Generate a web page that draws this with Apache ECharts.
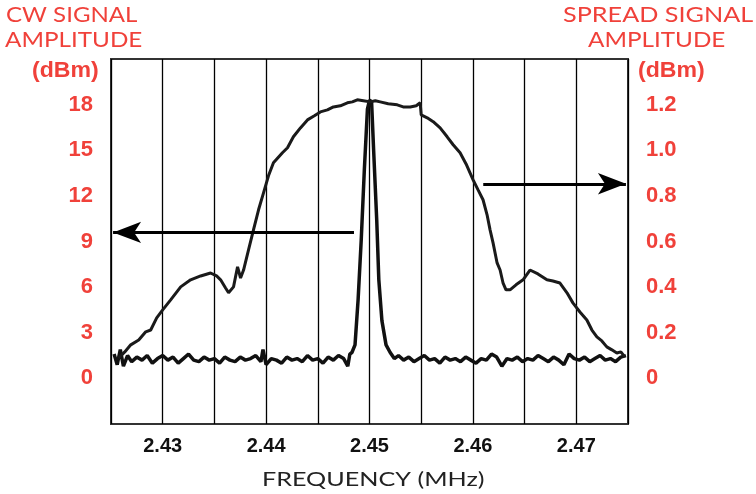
<!DOCTYPE html>
<html>
<head>
<meta charset="utf-8">
<script src="https://cdn.jsdelivr.net/npm/echarts@6/dist/echarts.min.js"></script>
<style>
html, body { margin: 0; padding: 0; background: #fff; }
#chart { width: 756px; height: 494px; }
</style>
</head>
<body>
<div id="chart"></div>
<script>
// frequency ticks (MHz) shown under the grid
var freqTicks = [2.43, 2.44, 2.45, 2.46, 2.47];
var cwTicks = [0, 3, 6, 9, 12, 15, 18];
var spreadTicks = ['0', '0.2', '0.4', '0.6', '0.8', '1.0', '1.2'];

// CW signal, left axis (dBm)
var cwFreq = [2.4253, 2.4256, 2.4259, 2.4262, 2.4266, 2.427, 2.4275, 2.428, 2.4285, 2.429, 2.4295, 2.43,
  2.4305, 2.431, 2.4315, 2.432, 2.4325, 2.433, 2.4335, 2.434, 2.4345, 2.435, 2.4355, 2.436, 2.4365,
  2.437, 2.4375, 2.438, 2.4385, 2.439, 2.4395, 2.4397, 2.44, 2.4405, 2.441, 2.4415, 2.442, 2.4425,
  2.443, 2.4435, 2.444, 2.4445, 2.445, 2.4455, 2.446, 2.4465, 2.447, 2.4475, 2.4479, 2.4481, 2.4483,
  2.4486, 2.4489, 2.4492, 2.4495, 2.4498, 2.45, 2.4502, 2.4504, 2.4507, 2.4509, 2.4512, 2.4516, 2.452,
  2.4524, 2.4528, 2.4533, 2.4538, 2.4543, 2.4548, 2.4553, 2.4558, 2.4563, 2.4568, 2.4573, 2.4578,
  2.4583, 2.4588, 2.4593, 2.4598, 2.4603, 2.4608, 2.4613, 2.4618, 2.4623, 2.4628, 2.4633, 2.4638,
  2.4643, 2.4648, 2.4653, 2.4658, 2.4663, 2.4668, 2.4673, 2.4678, 2.4683, 2.4688, 2.4693, 2.4698,
  2.4703, 2.4708, 2.4713, 2.4718, 2.4723, 2.4728, 2.4733, 2.4738, 2.4743, 2.4748];
var cwLevel = [1.6, 0.9, 1.9, 0.8, 1.5, 1.1, 1.4, 1.2, 1.5, 1.0, 1.3, 1.5,
  1.2, 1.4, 1.0, 1.3, 1.6, 1.2, 1.1, 1.4, 1.2, 1.3, 1.0, 1.4, 1.2,
  1.1, 1.4, 1.2, 1.3, 1.5, 1.1, 1.9, 0.9, 1.3, 1.2, 1.0, 1.4, 1.2,
  1.3, 1.1, 1.5, 1.2, 1.3, 1.0, 1.4, 1.2, 1.5, 1.3, 0.8, 1.6, 1.7,
  2.2, 5.2, 9.1, 13.7, 17.7, 18.3, 18.2, 15.0, 10.4, 6.5, 3.8, 2.2, 1.7,
  1.3, 1.5, 1.2, 1.4, 1.1, 1.3, 1.5, 1.2, 1.3, 1.0, 1.4, 1.2,
  1.3, 1.1, 1.4, 1.2, 1.0, 1.3, 1.2, 1.6, 1.4, 0.8, 1.3, 1.2,
  1.4, 1.1, 1.3, 1.2, 1.5, 1.3, 1.1, 1.4, 1.2, 0.9, 1.6, 1.3,
  1.2, 1.4, 1.1, 1.3, 1.5, 1.2, 1.3, 1.1, 1.4, 1.5];

// spread signal, right axis (dBm)
var spreadFreq = [2.42575, 2.42633, 2.42691, 2.42768, 2.42836, 2.42884, 2.42942, 2.43, 2.43077, 2.43174,
  2.4327, 2.43367, 2.43463, 2.43521, 2.4356, 2.43608, 2.43637, 2.43685, 2.43724, 2.43753, 2.43782,
  2.4383, 2.43878, 2.43927, 2.43975, 2.44023, 2.44071, 2.44158, 2.44207, 2.44264, 2.44332, 2.444,
  2.44467, 2.44525, 2.44593, 2.44651, 2.44718, 2.44786, 2.44834, 2.44882, 2.4494, 2.45008, 2.45056,
  2.45104, 2.45181, 2.45268, 2.45326, 2.45394, 2.45452, 2.4549, 2.455, 2.45558, 2.45616, 2.45683,
  2.45751, 2.45809, 2.45876, 2.45934, 2.46002, 2.4605, 2.46098, 2.46137, 2.46166, 2.46195, 2.46234,
  2.46263, 2.46291, 2.4632, 2.46359, 2.46417, 2.46485, 2.46552, 2.46629, 2.46716, 2.46774, 2.46842,
  2.4691, 2.46967, 2.47035, 2.47102, 2.47151, 2.47199, 2.47247, 2.47295, 2.47344, 2.47392, 2.47431, 2.47469];
var spreadLevel = [0.089, 0.116, 0.147, 0.168, 0.204, 0.212, 0.265, 0.3, 0.344, 0.401,
  0.432, 0.449, 0.462, 0.449, 0.432, 0.396, 0.375, 0.401, 0.489, 0.44, 0.475,
  0.563, 0.651, 0.739, 0.813, 0.888, 0.945, 0.989, 1.011, 1.059, 1.098, 1.133,
  1.151, 1.168, 1.177, 1.19, 1.195, 1.208, 1.212, 1.221, 1.217, 1.212, 1.217,
  1.212, 1.204, 1.199, 1.19, 1.19, 1.195, 1.208, 1.155, 1.142, 1.125, 1.098,
  1.059, 1.024, 0.989, 0.94, 0.87, 0.826, 0.783, 0.717, 0.651, 0.594, 0.506,
  0.475, 0.419, 0.388, 0.388, 0.41, 0.432, 0.475, 0.458, 0.432, 0.427, 0.418,
  0.375, 0.331, 0.291, 0.256, 0.212, 0.182, 0.164, 0.138, 0.125, 0.111, 0.116, 0.094];

// arrow annotations
var cwArrow = { from: [2.4485, 9.6], to: [2.4252, 9.6] };
var spreadArrow = { from: [2.4610, 0.853], to: [2.4748, 0.853] };

function pairs(xs, ys) {
  return xs.map(function (x, i) { return [x, ys[i]]; });
}

var red = '#f0413a';
var headFont = '21px Lato';
var chart = echarts.init(document.getElementById('chart'), null, { renderer: 'canvas' });

function label(text, x, y, sx, font, color) {
  return {
    type: 'text', x: x, y: y, scaleX: sx,
    style: { text: text, fill: color || red, font: font || headFont, textAlign: 'left', textVerticalAlign: 'top' }
  };
}

var option = {
  animation: false,
  backgroundColor: '#fff',
  grid: { left: 111, right: 128, top: 59, bottom: 70, show: true, borderColor: '#333', borderWidth: 2, backgroundColor: 'transparent' },
  xAxis: {
    type: 'value',
    min: 2.425, max: 2.475, interval: 0.005,
    axisLine: { show: false },
    axisTick: { show: false },
    splitLine: { show: true, lineStyle: { color: '#000', width: 1.3 } },
    axisLabel: {
      margin: 12,
      color: '#111',
      fontFamily: 'Liberation Sans',
      fontWeight: 'bold',
      fontSize: 20,
      formatter: function (v) {
        for (var i = 0; i < freqTicks.length; i++) {
          if (Math.abs(v - freqTicks[i]) < 1e-6) return freqTicks[i].toFixed(2);
        }
        return '';
      }
    }
  },
  yAxis: [
    {
      type: 'value', position: 'left',
      min: -3, max: 21, interval: 3,
      axisLine: { show: false }, axisTick: { show: false }, splitLine: { show: false },
      axisLabel: {
        margin: 18, color: red, fontFamily: 'Liberation Sans', fontWeight: 'bold', fontSize: 22,
        formatter: function (v) { return cwTicks.indexOf(Math.round(v)) >= 0 && v >= 0 && v <= 18 ? String(Math.round(v)) : ''; }
      }
    },
    {
      type: 'value', position: 'right',
      min: -0.2, max: 1.4, interval: 0.2,
      axisLine: { show: false }, axisTick: { show: false }, splitLine: { show: false },
      axisLabel: {
        margin: 18, color: red, fontFamily: 'Liberation Sans', fontWeight: 'bold', fontSize: 22,
        formatter: function (v) {
          var k = Math.round(v * 5);
          return (k >= 0 && k < spreadTicks.length) ? spreadTicks[k] : '';
        }
      }
    }
  ],
  series: [
    {
      name: 'CW',
      type: 'line',
      yAxisIndex: 0,
      data: pairs(cwFreq, cwLevel),
      showSymbol: false,
      lineStyle: { color: '#111', width: 3.5 },
      emphasis: { disabled: true },
      markLine: {
        silent: true,
        symbol: ['none', 'arrow'],
        symbolSize: [16, 28],
        label: { show: false },
        lineStyle: { color: '#000', width: 3, type: 'solid' },
        data: [[{ coord: cwArrow.from }, { coord: cwArrow.to }]]
      }
    },
    {
      name: 'Spread',
      type: 'line',
      yAxisIndex: 1,
      data: pairs(spreadFreq, spreadLevel),
      showSymbol: false,
      lineStyle: { color: '#1a1a1a', width: 3 },
      emphasis: { disabled: true },
      markLine: {
        silent: true,
        symbol: ['none', 'arrow'],
        symbolSize: [16, 28],
        label: { show: false },
        lineStyle: { color: '#000', width: 3, type: 'solid' },
        data: [[{ coord: spreadArrow.from }, { coord: spreadArrow.to }]]
      }
    }
  ],
  graphic: [
    label('CW SIGNAL', 6, 5, 1.145),
    label('AMPLITUDE', 5, 30, 1.155),
    label('(dBm)', 32, 60, 1.05, 'bold 22px "Liberation Sans"'),
    label('SPREAD SIGNAL', 563, 5, 1.2),
    label('AMPLITUDE', 588, 30, 1.155),
    label('(dBm)', 638, 60, 1.05, 'bold 22px "Liberation Sans"'),
    label('FREQUENCY (MHz)', 262, 470, 1.29, '19.5px Lato', '#222')
  ]
};
chart.setOption(option);
</script>
</body>
</html>
